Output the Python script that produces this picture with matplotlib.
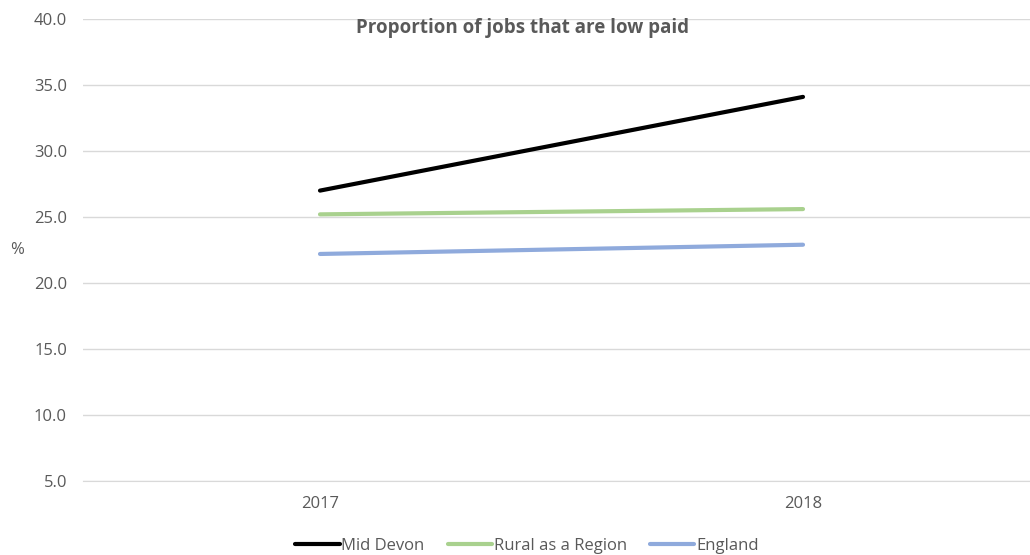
import matplotlib
matplotlib.use("Agg")
import matplotlib.pyplot as plt
import matplotlib.patheffects as pe

years = ["2017", "2018"]
mid_devon = [27.0, 34.1]
rural = [25.2, 25.6]
england = [22.2, 22.9]

series = [("Mid Devon", mid_devon, "#000000"),
          ("Rural as a Region", rural, "#a9d18e"),
          ("England", england, "#8faadc")]

plt.rcParams["font.family"] = ["Open Sans", "DejaVu Sans"]

fig = plt.figure(figsize=(10.3, 5.55), dpi=100)
ax = fig.add_axes([83 / 1030, 1 - 481 / 555, 947 / 1030, 462 / 555])

x = list(range(len(years)))
shadow = [pe.SimplePatchShadow(offset=(1.5, -1.5), shadow_rgbFace="#b0b0b0", alpha=0.6), pe.Normal()]
for name, vals, col in series:
    ax.plot(x, vals, color=col, lw=3.0, label=name, solid_capstyle="round",
            path_effects=shadow)

ax.set_xlim(-(320 - 83) / 483, (1030 - 320) / 483)
ax.set_ylim(5, 40)
ax.set_yticks(range(5, 41, 5))
ax.set_yticklabels([f"{v:.1f}" for v in range(5, 41, 5)])
ax.set_xticks(x)
ax.set_xticklabels(years)
ax.grid(axis="y", color="#d9d9d9", lw=1)
ax.set_axisbelow(True)
for s in ["top", "right", "left"]:
    ax.spines[s].set_visible(False)
ax.spines["bottom"].set_color("#d9d9d9")
ax.tick_params(axis="both", length=0, colors="#595959", labelsize=12)
ax.tick_params(axis="y", pad=11.5)
ax.tick_params(axis="x", pad=11)

fig.text(17 / 1030, 1 - 250 / 555, "%", color="#595959", fontsize=12, ha="center", va="center")
fig.text(522 / 1030, 1 - 28 / 555, "Proportion of jobs that are low paid", color="#595959",
         fontsize=13.5, fontweight="bold", ha="center", va="center")

ax.legend(loc="center", bbox_to_anchor=(0.5 - 29.5 / 947, -(546 - 481) / 462), ncol=3, frameon=False,
          fontsize=12, handlelength=2.65, handletextpad=0.1, columnspacing=1.4,
          labelcolor="#595959")

fig.savefig("out.png", dpi=100)
